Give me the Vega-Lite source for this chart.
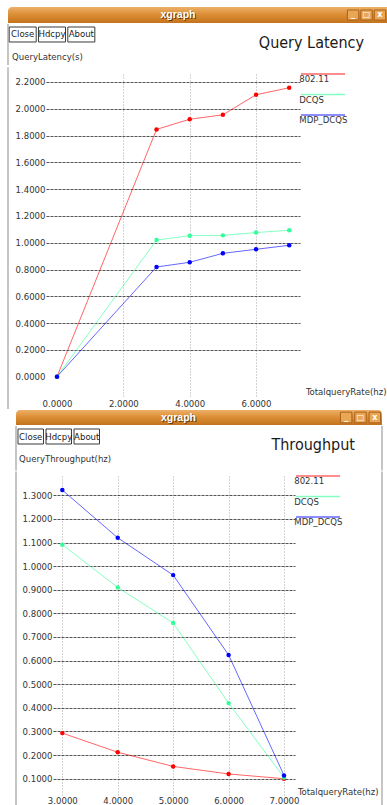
{
  "$schema": "https://vega.github.io/schema/vega-lite/v6.json",
  "background": "white",
  "padding": {"left": 0, "top": 7, "right": 0, "bottom": 0},
  "autosize": {"type": "pad"},
  "config": {
    "font": "DejaVu Sans Condensed, Liberation Sans, sans-serif",
    "view": {"stroke": null}
  },
  "datasets": {
    "latency": [
      {"series": "802.11", "rate": 0, "value": 0},
      {"series": "802.11", "rate": 3, "value": 1.846},
      {"series": "802.11", "rate": 4, "value": 1.922},
      {"series": "802.11", "rate": 5, "value": 1.955},
      {"series": "802.11", "rate": 6, "value": 2.105},
      {"series": "802.11", "rate": 7, "value": 2.157},
      {"series": "DCQS", "rate": 0, "value": 0},
      {"series": "DCQS", "rate": 3, "value": 1.02},
      {"series": "DCQS", "rate": 4, "value": 1.053},
      {"series": "DCQS", "rate": 5, "value": 1.055},
      {"series": "DCQS", "rate": 6, "value": 1.076},
      {"series": "DCQS", "rate": 7, "value": 1.093},
      {"series": "MDP_DCQS", "rate": 0, "value": 0},
      {"series": "MDP_DCQS", "rate": 3, "value": 0.819},
      {"series": "MDP_DCQS", "rate": 4, "value": 0.854},
      {"series": "MDP_DCQS", "rate": 5, "value": 0.921},
      {"series": "MDP_DCQS", "rate": 6, "value": 0.951},
      {"series": "MDP_DCQS", "rate": 7, "value": 0.981}
    ],
    "throughput": [
      {"series": "802.11", "rate": 3, "value": 0.293},
      {"series": "802.11", "rate": 4, "value": 0.212},
      {"series": "802.11", "rate": 5, "value": 0.152},
      {"series": "802.11", "rate": 6, "value": 0.12},
      {"series": "802.11", "rate": 7, "value": 0.1},
      {"series": "DCQS", "rate": 3, "value": 1.091},
      {"series": "DCQS", "rate": 4, "value": 0.91},
      {"series": "DCQS", "rate": 5, "value": 0.759},
      {"series": "DCQS", "rate": 6, "value": 0.42},
      {"series": "DCQS", "rate": 7, "value": 0.105},
      {"series": "MDP_DCQS", "rate": 3, "value": 1.322},
      {"series": "MDP_DCQS", "rate": 4, "value": 1.12},
      {"series": "MDP_DCQS", "rate": 5, "value": 0.962},
      {"series": "MDP_DCQS", "rate": 6, "value": 0.624},
      {"series": "MDP_DCQS", "rate": 7, "value": 0.114}
    ],
    "winbtn": [
      {"b": "min", "g": "_", "row": "bar"},
      {"b": "max", "g": "□", "row": "bar"},
      {"b": "close", "g": "x", "row": "bar"}
    ],
    "appbtn": [
      {"b": "Close", "row": "bar"},
      {"b": "Hdcpy", "row": "bar"},
      {"b": "About", "row": "bar"}
    ],
    "one": [{"k": "a"}]
  },
  "spacing": 0,
  "resolve": {"scale": {"color": "independent"}, "legend": {"color": "independent"}},
  "vconcat": [
    {
      "bounds": "flush", "spacing": 0,
      "hconcat": [
        {"width": 8, "height": 16, "data": {"name": "one"}, "mark": {"type": "rule", "strokeWidth": 0, "color": "white"},
          "encoding": {"x": {"datum": 0, "type": "quantitative", "scale": {"domain": [0, 1]}, "axis": null}}},
        {
          "width": 338, "height": 16,
          "layer": [
            {"data": {"name": "one"},
              "mark": {"type": "rect", "cornerRadiusTopLeft": 4,
                "color": {"gradient": "linear", "x1": 0, "y1": 0, "x2": 0, "y2": 1,
                  "stops": [{"offset": 0, "color": "#ecb06a"}, {"offset": 0.45, "color": "#dd8f36"}, {"offset": 1, "color": "#c4731d"}]}},
              "encoding": {}},
            {"data": {"name": "one"},
              "mark": {"type": "text", "text": "xgraph", "font": "Liberation Sans", "fontWeight": "bold", "fontSize": 10.5, "color": "#6b3a08", "dx": 2, "dy": 1},
              "encoding": {}},
            {"data": {"name": "one"},
              "mark": {"type": "text", "text": "xgraph", "font": "Liberation Sans", "fontWeight": "bold", "fontSize": 10.5, "color": "#ffffff", "dx": 1},
              "encoding": {}}
          ]
        },
        {
          "width": 41, "height": 16,
          "layer": [
            {"data": {"name": "one"},
              "mark": {"type": "rect",
                "color": {"gradient": "linear", "x1": 0, "y1": 0, "x2": 0, "y2": 1,
                  "stops": [{"offset": 0, "color": "#ecb06a"}, {"offset": 0.45, "color": "#dd8f36"}, {"offset": 1, "color": "#c4731d"}]}},
              "encoding": {}},
            {"data": {"name": "winbtn"},
              "mark": {"type": "rect", "fill": "#e9a654", "stroke": "#a8631a", "strokeWidth": 1},
              "encoding": {
                "x": {"field": "b", "type": "nominal", "axis": null,
                  "scale": {"type": "band", "domain": ["min", "max", "close"], "paddingInner": 0.15, "paddingOuter": 0.1, "align": 0.5}},
                "y": {"field": "row", "type": "nominal", "axis": null,
                  "scale": {"type": "band", "domain": ["bar"], "paddingInner": 0, "paddingOuter": 0.3, "align": 0.5}}}},
            {"data": {"name": "winbtn"},
              "mark": {"type": "text", "fontSize": 8, "color": "#ffffff", "font": "DejaVu Sans", "fontWeight": "bold"},
              "encoding": {
                "x": {"field": "b", "type": "nominal", "axis": null,
                  "scale": {"type": "band", "domain": ["min", "max", "close"], "paddingInner": 0.15, "paddingOuter": 0.1, "align": 0.5}},
                "y": {"field": "row", "type": "nominal", "axis": null,
                  "scale": {"type": "band", "domain": ["bar"], "paddingInner": 0, "paddingOuter": 0.3, "align": 0.5}},
                "text": {"field": "g"}}}
          ]
        }
      ]
    },
    {
      "bounds": "flush", "spacing": 0,
      "hconcat": [
        {"width": 8, "height": 41, "data": {"name": "one"}, "mark": {"type": "rule", "strokeWidth": 0, "color": "white"},
          "encoding": {"x": {"datum": 0, "type": "quantitative", "scale": {"domain": [0, 1]}, "axis": null}}},
        {
          "width": 88, "height": 41,
          "title": {"text": "QueryLatency(s)", "anchor": "start", "frame": "group", "orient": "top", "offset": -46, "dx": 4,
            "fontSize": 9.5, "fontWeight": "normal", "color": "#333333", "baseline": "alphabetic"},
          "resolve": {"scale": {"x": "independent"}},
          "layer": [
            {"data": {"name": "appbtn"},
              "mark": {"type": "rect", "fill": "#ffffff", "stroke": "#3a3a3a", "strokeWidth": 1},
              "encoding": {
                "x": {"field": "b", "type": "nominal", "axis": null,
                  "scale": {"type": "band", "domain": ["Close", "Hdcpy", "About"], "paddingInner": 0.078, "paddingOuter": 0.04, "align": 0.5}},
                "y": {"field": "row", "type": "nominal", "axis": null,
                  "scale": {"type": "band", "domain": ["bar"], "paddingInner": 0, "paddingOuter": 0.867, "align": 0.1154}}}},
            {"data": {"name": "appbtn"},
              "mark": {"type": "text", "fontSize": 9.5, "color": "#222222"},
              "encoding": {
                "x": {"field": "b", "type": "nominal", "axis": null,
                  "scale": {"type": "band", "domain": ["Close", "Hdcpy", "About"], "paddingInner": 0.078, "paddingOuter": 0.04, "align": 0.5}},
                "y": {"field": "row", "type": "nominal", "axis": null,
                  "scale": {"type": "band", "domain": ["bar"], "paddingInner": 0, "paddingOuter": 0.867, "align": 0.1154}},
                "text": {"field": "b"}}},
            {"data": {"name": "one"},
              "mark": {"type": "rule", "color": "#8c8c8c"},
              "encoding": {"x": {"datum": 0, "type": "quantitative", "scale": {"domain": [0, 1]}, "axis": null}}}
          ]
        },
        {
          "width": 291, "height": 41,
          "title": {"text": "Query Latency", "anchor": "end", "frame": "group", "orient": "top", "offset": -40, "dx": -23,
            "fontSize": 16, "fontWeight": "normal", "color": "#1a1a1a", "baseline": "alphabetic"},
          "data": {"name": "one"},
          "mark": {"type": "rule", "strokeWidth": 0, "color": "white"},
          "encoding": {"x": {"datum": 0, "type": "quantitative", "scale": {"domain": [0, 1]}, "axis": null}}
        }
      ]
    },
    {
      "bounds": "flush", "spacing": 0,
      "resolve": {"scale": {"color": "independent"}, "legend": {"color": "independent"}},
      "hconcat": [
        {"width": 8, "height": 335, "data": {"name": "one"}, "mark": {"type": "rule", "strokeWidth": 0, "color": "white"},
          "encoding": {"x": {"datum": 0, "type": "quantitative", "scale": {"domain": [0, 1]}, "axis": null}}},
        {"width": 38, "height": 335, "data": {"name": "one"}, "mark": {"type": "rule", "color": "#8c8c8c"},
          "encoding": {
            "x": {"datum": 0, "type": "quantitative", "scale": {"domain": [0, 1]}, "axis": null},
            "y": {"datum": 0, "type": "quantitative", "scale": {"domain": [0, 1]}, "axis": null},
            "y2": {"datum": 1.02}}},
        {
          "width": 254, "height": 323,
          "data": {"name": "latency"},
          "encoding": {
            "x": {"field": "rate", "type": "quantitative",
              "scale": {"domain": [-0.332, 7.325], "nice": false, "zero": false},
              "axis": {"values": [0, 2, 4, 6], "format": ".4f", "grid": true, "gridColor": "#a8a8a8", "gridDash": [1, 2],
                "gridOpacity": {"condition": {"test": "datum.value === 0", "value": 0}, "value": 1},
                "domain": false, "ticks": false, "labelPadding": 1, "labelFontSize": 9.5, "labelColor": "#333333",
                "title": "TotalqueryRate(hz)", "titleX": 340, "titleY": -6, "titleAlign": "right", "titleBaseline": "middle",
                "titleFontSize": 9.5, "titleFontWeight": "normal", "titleColor": "#333333", "titleAngle": 0}},
            "y": {"field": "value", "type": "quantitative",
              "scale": {"domain": [-0.1516, 2.2597], "nice": false, "zero": false},
              "axis": {"values": [0, 0.2, 0.4, 0.6, 0.8, 1.0, 1.2, 1.4, 1.6, 1.8, 2.0, 2.2], "format": ".4f",
                "grid": true, "gridColor": "#404040", "gridDash": [3, 1],
                "gridOpacity": {"condition": {"test": "datum.value === 0", "value": 0}, "value": 0.9},
                "domain": false, "ticks": false, "labelPadding": 1, "labelFontSize": 9.5, "labelColor": "#333333",
                "title": null}},
            "color": {"field": "series", "type": "nominal",
              "scale": {"domain": ["802.11", "DCQS", "MDP_DCQS"], "range": ["#ff0000", "#33ff99", "#0000ff"]},
              "legend": {"orient": "none", "legendX": 255, "legendY": -4.75, "title": null, "symbolType": "M-1,0H21",
                "symbolSize": 16, "symbolStrokeWidth": 1.5, "symbolOffset": -2.75, "labelBaseline": "top", "labelOffset": -8.5,
                "labelFontSize": 9.5, "labelColor": "#333333", "rowPadding": 5.5, "padding": 0,
                "encode": {"symbols": {"update": {"stroke": {"field": "value", "scale": "color"}, "fill": {"value": "transparent"}, "opacity": {"value": 1}}}}}}
          },
          "layer": [
            {"mark": {"type": "line", "strokeWidth": 1, "opacity": 0.6}},
            {"mark": {"type": "circle", "size": 20, "opacity": 1}}
          ]
        }
      ]
    },
    {
      "bounds": "flush", "spacing": 0,
      "hconcat": [
        {"width": 16, "height": 15, "data": {"name": "one"}, "mark": {"type": "rule", "strokeWidth": 0, "color": "white"},
          "encoding": {"x": {"datum": 0, "type": "quantitative", "scale": {"domain": [0, 1]}, "axis": null}}},
        {
          "width": 323, "height": 15,
          "layer": [
            {"data": {"name": "one"},
              "mark": {"type": "rect", "cornerRadiusTopLeft": 4,
                "color": {"gradient": "linear", "x1": 0, "y1": 0, "x2": 0, "y2": 1,
                  "stops": [{"offset": 0, "color": "#ecb06a"}, {"offset": 0.45, "color": "#dd8f36"}, {"offset": 1, "color": "#c4731d"}]}},
              "encoding": {}},
            {"data": {"name": "one"},
              "mark": {"type": "text", "text": "xgraph", "font": "Liberation Sans", "fontWeight": "bold", "fontSize": 10.5, "color": "#6b3a08", "dx": 2, "dy": 1},
              "encoding": {}},
            {"data": {"name": "one"},
              "mark": {"type": "text", "text": "xgraph", "font": "Liberation Sans", "fontWeight": "bold", "fontSize": 10.5, "color": "#ffffff", "dx": 1},
              "encoding": {}}
          ]
        },
        {
          "width": 43, "height": 15,
          "layer": [
            {"data": {"name": "one"},
              "mark": {"type": "rect", "cornerRadiusTopRight": 4,
                "color": {"gradient": "linear", "x1": 0, "y1": 0, "x2": 0, "y2": 1,
                  "stops": [{"offset": 0, "color": "#ecb06a"}, {"offset": 0.45, "color": "#dd8f36"}, {"offset": 1, "color": "#c4731d"}]}},
              "encoding": {}},
            {"data": {"name": "winbtn"},
              "mark": {"type": "rect", "fill": "#e9a654", "stroke": "#a8631a", "strokeWidth": 1},
              "encoding": {
                "x": {"field": "b", "type": "nominal", "axis": null,
                  "scale": {"type": "band", "domain": ["min", "max", "close"], "paddingInner": 0.2, "paddingOuter": 0.1, "align": 0.5}},
                "y": {"field": "row", "type": "nominal", "axis": null,
                  "scale": {"type": "band", "domain": ["bar"], "paddingInner": 0, "paddingOuter": 0.2, "align": 0.5}}}},
            {"data": {"name": "winbtn"},
              "mark": {"type": "text", "fontSize": 8, "color": "#ffffff", "font": "DejaVu Sans", "fontWeight": "bold"},
              "encoding": {
                "x": {"field": "b", "type": "nominal", "axis": null,
                  "scale": {"type": "band", "domain": ["min", "max", "close"], "paddingInner": 0.2, "paddingOuter": 0.1, "align": 0.5}},
                "y": {"field": "row", "type": "nominal", "axis": null,
                  "scale": {"type": "band", "domain": ["bar"], "paddingInner": 0, "paddingOuter": 0.2, "align": 0.5}},
                "text": {"field": "g"}}}
          ]
        }
      ]
    },
    {
      "bounds": "flush", "spacing": 0,
      "hconcat": [
        {"width": 16, "height": 44.5, "data": {"name": "one"}, "mark": {"type": "rule", "strokeWidth": 0, "color": "white"},
          "encoding": {"x": {"datum": 0, "type": "quantitative", "scale": {"domain": [0, 1]}, "axis": null}}},
        {
          "width": 88, "height": 44.5,
          "title": {"text": "QueryThroughput(hz)", "anchor": "start", "frame": "group", "orient": "top", "offset": -46, "dx": 3,
            "fontSize": 9.5, "fontWeight": "normal", "color": "#333333", "baseline": "alphabetic"},
          "resolve": {"scale": {"x": "independent"}},
          "layer": [
            {"data": {"name": "appbtn"},
              "mark": {"type": "rect", "fill": "#ffffff", "stroke": "#3a3a3a", "strokeWidth": 1},
              "encoding": {
                "x": {"field": "b", "type": "nominal", "axis": null,
                  "scale": {"type": "band", "domain": ["Close", "Hdcpy", "About"], "paddingInner": 0.09, "paddingOuter": 0.116, "align": 0.307}},
                "y": {"field": "row", "type": "nominal", "axis": null,
                  "scale": {"type": "band", "domain": ["bar"], "paddingInner": 0, "paddingOuter": 0.983, "align": 0.1017}}}},
            {"data": {"name": "appbtn"},
              "mark": {"type": "text", "fontSize": 9.5, "color": "#222222"},
              "encoding": {
                "x": {"field": "b", "type": "nominal", "axis": null,
                  "scale": {"type": "band", "domain": ["Close", "Hdcpy", "About"], "paddingInner": 0.09, "paddingOuter": 0.116, "align": 0.307}},
                "y": {"field": "row", "type": "nominal", "axis": null,
                  "scale": {"type": "band", "domain": ["bar"], "paddingInner": 0, "paddingOuter": 0.983, "align": 0.1017}},
                "text": {"field": "b"}}},
            {"data": {"name": "one"},
              "mark": {"type": "rule", "color": "#8c8c8c"},
              "encoding": {"x": {"datum": 0, "type": "quantitative", "scale": {"domain": [0, 1]}, "axis": null}}}
          ]
        },
        {
          "width": 278, "height": 44.5,
          "title": {"text": "Throughput", "anchor": "end", "frame": "group", "orient": "top", "offset": -40, "dx": -27,
            "fontSize": 16, "fontWeight": "normal", "color": "#1a1a1a", "baseline": "alphabetic"},
          "data": {"name": "one"},
          "mark": {"type": "rule", "color": "#8c8c8c"},
          "encoding": {"x": {"datum": 1, "type": "quantitative", "scale": {"domain": [0, 1]}, "axis": null}}
        }
      ]
    },
    {
      "bounds": "flush", "spacing": 0,
      "resolve": {"scale": {"color": "independent"}, "legend": {"color": "independent"}},
      "hconcat": [
        {"width": 16, "height": 332, "data": {"name": "one"}, "mark": {"type": "rule", "strokeWidth": 0, "color": "white"},
          "encoding": {"x": {"datum": 0, "type": "quantitative", "scale": {"domain": [0, 1]}, "axis": null}}},
        {"width": 37, "height": 332, "data": {"name": "one"}, "mark": {"type": "rule", "color": "#8c8c8c"},
          "encoding": {
            "x": {"datum": 0, "type": "quantitative", "scale": {"domain": [0, 1]}, "axis": null},
            "y": {"datum": 0, "type": "quantitative", "scale": {"domain": [0, 1]}, "axis": null},
            "y2": {"datum": 1.0135}}},
        {
          "width": 242, "height": 321,
          "data": {"name": "throughput"},
          "encoding": {
            "x": {"field": "rate", "type": "quantitative",
              "scale": {"domain": [2.832, 7.198], "nice": false, "zero": false},
              "axis": {"values": [3, 4, 5, 6, 7], "format": ".4f", "grid": true, "gridColor": "#a8a8a8", "gridDash": [1, 2],
                "domain": false, "ticks": false, "labelPadding": -2, "labelFontSize": 9.5, "labelColor": "#333333",
                "title": "TotalqueryRate(hz)", "titleX": 325, "titleY": -6, "titleAlign": "right", "titleBaseline": "middle",
                "titleFontSize": 9.5, "titleFontWeight": "normal", "titleColor": "#333333", "titleAngle": 0}},
            "y": {"field": "value", "type": "quantitative",
              "scale": {"domain": [0.0225, 1.3817], "nice": false, "zero": false},
              "axis": {"values": [0.1, 0.2, 0.3, 0.4, 0.5, 0.6, 0.7, 0.8, 0.9, 1.0, 1.1, 1.2, 1.3], "format": ".4f",
                "grid": true, "gridColor": "#404040", "gridDash": [3, 1], "gridOpacity": 0.9,
                "domain": false, "ticks": false, "labelPadding": 1, "labelFontSize": 9.5, "labelColor": "#333333",
                "title": null}},
            "color": {"field": "series", "type": "nominal",
              "scale": {"domain": ["802.11", "DCQS", "MDP_DCQS"], "range": ["#ff0000", "#33ff99", "#0000ff"]},
              "legend": {"orient": "none", "legendX": 243, "legendY": -4.75, "title": null, "symbolType": "M-1,0H21",
                "symbolSize": 16, "symbolStrokeWidth": 1.5, "symbolOffset": -2.75, "labelBaseline": "top", "labelOffset": -8.5,
                "labelFontSize": 9.5, "labelColor": "#333333", "rowPadding": 5.5, "padding": 0,
                "encode": {"symbols": {"update": {"stroke": {"field": "value", "scale": "color"}, "fill": {"value": "transparent"}, "opacity": {"value": 1}}}}}}
          },
          "layer": [
            {"mark": {"type": "line", "strokeWidth": 1, "opacity": 0.6}},
            {"mark": {"type": "circle", "size": 20, "opacity": 1}}
          ]
        },
        {"width": 87, "height": 332, "data": {"name": "one"}, "mark": {"type": "rule", "color": "#8c8c8c"},
          "encoding": {
            "x": {"datum": 1, "type": "quantitative", "scale": {"domain": [0, 1]}, "axis": null},
            "y": {"datum": 0, "type": "quantitative", "scale": {"domain": [0, 1]}, "axis": null},
            "y2": {"datum": 1.0135}}}
      ]
    }
  ]
}
